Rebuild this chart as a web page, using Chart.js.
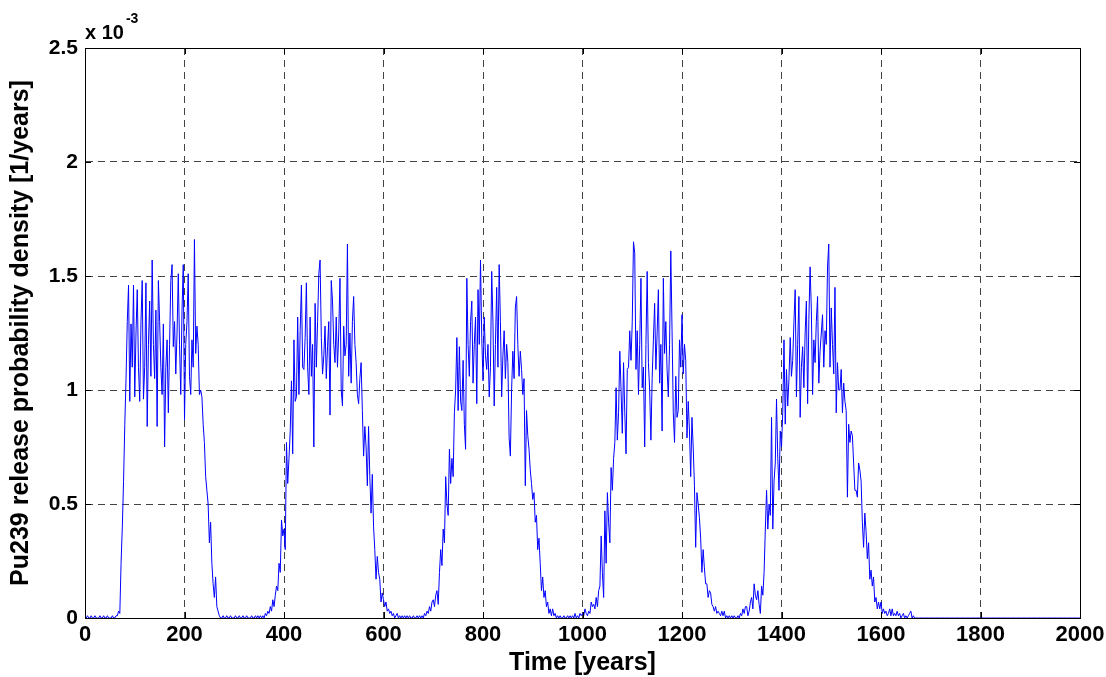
<!DOCTYPE html>
<html>
<head>
<meta charset="utf-8">
<script src="https://cdn.jsdelivr.net/npm/chart.js@4.4.1/dist/chart.umd.min.js"></script>
<style>
  html, body { margin: 0; padding: 0; background: #fff; }
  #wrap { width: 1106px; height: 677px; }
</style>
</head>
<body>
<div id="wrap"><canvas id="releaseChart" width="1106" height="677"></canvas></div>
<script>
// Pu239 release probability density, values in units of 1e-3 [1/years]
// sampled every 2.5 years from year 0 to 2000 (one row = 50 years)
const startYear = 0;
const yearStep = 2.5;
const density = [
  0, 0, 0.01, 0, 0, 0.01, 0, 0, 0.01, 0, 0, 0, 0.01, 0, 0, 0.01, 0, 0, 0.01, 0,
  0, 0, 0.01, 0, 0, 0.01, 0.01, 0.03, 0.02, 0.24, 0.4, 0.6, 0.85, 1.05, 1.3, 1.46, 0.95, 1.29, 1.1, 1.46,
  0.97, 1.25, 1.44, 1.1, 0.95, 1.3, 1.48, 0.96, 1.1, 1.47, 0.84, 1.2, 1.39, 1.06, 1.57, 1.2, 1.05, 1.35, 0.84, 1.48,
  1.3, 1.1, 0.98, 1.29, 0.75, 1.1, 1.22, 0.9, 1.2, 1.48, 1.55, 1.19, 1.3, 1.07, 1.25, 1.51, 1.2, 0.98, 1.35, 1.55,
  0.87, 1.2, 1.3, 1.51, 1.06, 0.98, 1.22, 1.1, 1.66, 1.16, 1.28, 1.2, 0.98, 1.0, 0.97, 0.85, 0.77, 0.62, 0.56, 0.5,
  0.33, 0.42, 0.24, 0.15, 0.09, 0.18, 0.05, 0.03, 0.01, 0, 0, 0.01, 0, 0, 0.01, 0, 0, 0.01, 0, 0,
  0, 0.01, 0, 0, 0.01, 0, 0, 0.01, 0, 0, 0.01, 0, 0, 0, 0.01, 0, 0, 0.01, 0, 0.01,
  0, 0.01, 0, 0.01, 0, 0.02, 0.01, 0.03, 0.02, 0.05, 0.03, 0.08, 0.05, 0.1, 0.14, 0.12, 0.24, 0.2, 0.43, 0.36,
  0.39, 0.3, 0.77, 0.59, 0.7, 0.82, 1.04, 0.72, 1.22, 0.95, 0.97, 1.32, 0.98, 1.26, 1.46, 1.1, 1.09, 1.23, 1.47, 1.1,
  0.98, 1.32, 1.06, 1.2, 0.75, 1.38, 1.1, 1.3, 1.51, 1.57, 1.23, 1.07, 1.15, 1.28, 1.05, 1.19, 1.3, 0.89, 1.48, 1.39,
  1.2, 1.12, 1.32, 1.1, 1.25, 1.49, 1.0, 0.93, 1.28, 1.15, 1.2, 1.64, 1.06, 1.25, 1.03, 1.3, 1.41, 1.2, 1.12, 0.98,
  0.94, 1.05, 1.12, 0.91, 0.71, 0.84, 0.75, 0.58, 0.84, 0.62, 0.46, 0.63, 0.4, 0.3, 0.17, 0.27, 0.2, 0.17, 0.07, 0.11,
  0.08, 0.05, 0.07, 0.03, 0.04, 0.02, 0.03, 0.01, 0.02, 0, 0.01, 0.02, 0, 0.01, 0, 0.01, 0, 0.01, 0, 0.01,
  0, 0.01, 0, 0, 0.01, 0, 0, 0.01, 0, 0.01, 0, 0.01, 0, 0.02, 0.01, 0.03, 0.02, 0.05, 0.03, 0.07,
  0.08, 0.05, 0.1, 0.12, 0.06, 0.2, 0.3, 0.23, 0.39, 0.33, 0.62, 0.5, 0.45, 0.74, 0.59, 0.7, 0.62, 0.9, 1.0, 1.23,
  0.91, 1.19, 0.95, 0.91, 1.13, 0.85, 0.74, 1.49, 1.2, 1.06, 1.3, 1.39, 1.03, 1.2, 1.32, 0.94, 1.44, 1.2, 1.57, 1.23,
  1.04, 1.32, 1.15, 1.09, 1.2, 0.97, 1.1, 1.52, 1.3, 0.93, 1.2, 1.45, 1.1, 1.55, 1.3, 0.97, 1.15, 1.26, 1.05, 1.2,
  1.12, 0.79, 0.71, 1.0, 1.17, 1.05, 1.36, 1.41, 1.2, 1.06, 1.17, 1.09, 0.98, 1.05, 0.58, 0.91, 0.8, 0.74, 0.65, 0.59,
  0.52, 0.55, 0.42, 0.45, 0.3, 0.35, 0.24, 0.12, 0.18, 0.09, 0.12, 0.05, 0.07, 0.02, 0.04, 0.01, 0.04, 0.01, 0.02, 0,
  0.01, 0, 0.01, 0, 0, 0.01, 0, 0, 0.01, 0, 0.01, 0, 0.01, 0, 0.02, 0, 0.01, 0, 0.02, 0.01,
  0.02, 0.01, 0.04, 0.02, 0.01, 0.03, 0.02, 0.07, 0.05, 0.06, 0.04, 0.09, 0.05, 0.12, 0.14, 0.36, 0.2, 0.09, 0.47, 0.24,
  0.55, 0.42, 0.33, 0.66, 0.56, 0.7, 0.77, 1.01, 0.78, 0.9, 1.17, 1.0, 0.81, 1.12, 0.9, 0.72, 1.09, 1.1, 1.26, 1.13,
  1.3, 1.65, 1.6, 1.09, 1.26, 0.98, 1.2, 1.49, 1.01, 1.1, 0.75, 1.2, 1.52, 1.12, 1.0, 0.78, 1.05, 1.22, 1.38, 1.09,
  1.25, 1.44, 1.03, 1.2, 0.82, 1.49, 1.16, 1.3, 1.09, 0.97, 1.2, 1.61, 1.26, 0.9, 0.77, 1.06, 0.88, 0.91, 1.22, 1.1,
  1.33, 1.07, 1.2, 1.13, 0.79, 0.95, 0.82, 0.62, 0.88, 0.75, 0.58, 0.31, 0.55, 0.5, 0.44, 0.35, 0.2, 0.3, 0.22, 0.15,
  0.15, 0.09, 0.12, 0.11, 0.06, 0.05, 0.03, 0.05, 0.02, 0.03, 0.02, 0.01, 0.03, 0.01, 0.03, 0, 0.01, 0, 0.01, 0,
  0.01, 0, 0.01, 0, 0, 0.01, 0, 0.02, 0.01, 0.04, 0.02, 0.05, 0.05, 0.01, 0.03, 0.07, 0.09, 0.04, 0.15, 0.1,
  0.08, 0.12, 0.06, 0.02, 0.14, 0.1, 0.2, 0.39, 0.56, 0.39, 0.5, 0.45, 0.88, 0.39, 0.6, 0.68, 0.96, 0.7, 0.56, 0.82,
  0.75, 0.9, 1.22, 0.85, 1.09, 0.93, 1.05, 1.23, 1.06, 1.13, 1.3, 1.44, 0.97, 1.2, 1.41, 0.88, 1.1, 1.19, 1.01, 1.25,
  1.39, 0.94, 1.31, 1.54, 1.35, 0.98, 1.22, 1.12, 1.3, 1.41, 1.03, 1.17, 1.25, 1.33, 1.1, 1.26, 1.2, 1.54, 1.64, 1.1,
  1.36, 1.2, 1.07, 1.45, 0.9, 1.12, 1.0, 1.0, 1.09, 0.9, 1.03, 0.95, 0.91, 0.53, 0.85, 0.77, 0.82, 0.8, 0.68, 0.56,
  0.56, 0.53, 0.68, 0.65, 0.6, 0.42, 0.31, 0.46, 0.38, 0.26, 0.33, 0.17, 0.21, 0.14, 0.18, 0.07, 0.09, 0.04, 0.07, 0.04,
  0.07, 0.02, 0.04, 0.02, 0.03, 0.01, 0.02, 0.04, 0.01, 0.04, 0.01, 0.02, 0.01, 0.03, 0.01, 0.02, 0, 0.01, 0.02, 0,
  0.01, 0, 0.01, 0.02, 0.03, 0, 0.01, 0, 0, 0, 0, 0, 0, 0, 0, 0, 0, 0, 0, 0,
  0, 0, 0, 0, 0, 0, 0, 0, 0, 0, 0, 0, 0, 0, 0, 0, 0, 0, 0, 0,
  0, 0, 0, 0, 0, 0, 0, 0, 0, 0, 0, 0, 0, 0, 0, 0, 0, 0, 0, 0,
  0, 0, 0, 0, 0, 0, 0, 0, 0, 0, 0, 0, 0, 0, 0, 0, 0, 0, 0, 0,
  0, 0, 0, 0, 0, 0, 0, 0, 0, 0, 0, 0, 0, 0, 0, 0, 0, 0, 0, 0,
  0, 0, 0, 0, 0, 0, 0, 0, 0, 0, 0, 0, 0, 0, 0, 0, 0, 0, 0, 0,
  0, 0, 0, 0, 0, 0, 0, 0, 0, 0, 0, 0, 0, 0, 0, 0, 0, 0, 0, 0,
  0
];

const xTicks = [0, 200, 400, 600, 800, 1000, 1200, 1400, 1600, 1800, 2000];
const yTicks = [0, 0.5, 1, 1.5, 2, 2.5];

const points = density.map((v, i) => ({ x: startYear + i * yearStep, y: v }));

const FONT = "'Liberation Sans', Arial, Helvetica, sans-serif";

// рамка, внутренние засечки и множитель x 10^-3
const matlabBox = {
    id: 'matlabBox',
    afterDraw(chart) {
        const { ctx, chartArea: a, scales } = chart;
        ctx.save();
        ctx.strokeStyle = '#000';
        ctx.lineWidth = 1;
        ctx.setLineDash([]);
        ctx.beginPath();
        xTicks.forEach(t => {
            const px = Math.round(scales.x.getPixelForValue(t)) + 0.5;
            ctx.moveTo(px, a.bottom); ctx.lineTo(px, a.bottom - 6);
            ctx.moveTo(px, a.top); ctx.lineTo(px, a.top + 6);
        });
        yTicks.forEach(t => {
            const py = Math.round(scales.y.getPixelForValue(t)) + 0.5;
            ctx.moveTo(a.left, py); ctx.lineTo(a.left + 6, py);
            ctx.moveTo(a.right, py); ctx.lineTo(a.right - 6, py);
        });
        ctx.stroke();
        ctx.strokeRect(Math.round(a.left) + 0.5, Math.round(a.top) + 0.5,
            Math.round(a.right - a.left), Math.round(a.bottom - a.top));

        ctx.fillStyle = '#000';
        ctx.textBaseline = 'alphabetic';
        ctx.textAlign = 'left';
        ctx.font = 'bold 20px ' + FONT;
        ctx.fillText('x 10', a.left, a.top - 9);
        const w = ctx.measureText('x 10').width;
        ctx.font = 'bold 14px ' + FONT;
        ctx.fillText('-3', a.left + w + 2, a.top - 25);
        ctx.restore();
    }
};

const releaseConfig = {
    type: 'line',
    data: {
        datasets: [{
            data: points,
            borderColor: '#0000ff',
            borderWidth: 1,
            pointRadius: 0,
            tension: 0,
            fill: false
        }]
    },
    options: {
        responsive: false,
        animation: false,
        layout: { padding: { top: 48, right: 26, left: 0, bottom: 0 } },
        plugins: {
            legend: { display: false },
            tooltip: { enabled: false }
        },
        scales: {
            x: {
                type: 'linear',
                min: 0,
                max: 2000,
                afterBuildTicks: s => { s.ticks = xTicks.map(v => ({ value: v })); },
                afterFit: s => { s.height = 59; s.paddingLeft = 0; s.paddingRight = 0; },
                grid: {
                    color: '#444',
                    lineWidth: 1,
                    drawTicks: false
                },
                border: { display: true, color: '#000', dash: [7, 5] },
                ticks: {
                    color: '#000',
                    padding: 4,
                    maxRotation: 0,
                    font: { family: FONT, size: 22, weight: 'bold' },
                    callback: v => String(v)
                },
                title: {
                    display: true,
                    text: 'Time [years]',
                    color: '#000',
                    padding: { top: 0, bottom: 1 },
                    font: { family: FONT, size: 25, weight: 'bold', lineHeight: 1 }
                }
            },
            y: {
                min: 0,
                max: 2.5,
                afterBuildTicks: s => { s.ticks = yTicks.map(v => ({ value: v })); },
                afterFit: s => { s.width = 85; },
                grid: {
                    color: '#444',
                    lineWidth: 1,
                    drawTicks: false
                },
                border: { display: true, color: '#000', dash: [7, 5] },
                ticks: {
                    color: '#000',
                    padding: 7,
                    font: { family: FONT, size: 21, weight: 'bold' },
                    callback: v => String(v)
                },
                title: {
                    display: true,
                    text: 'Pu239 release probability density [1/years]',
                    color: '#000',
                    padding: { top: 9, bottom: 0 },
                    font: { family: FONT, size: 25, weight: 'bold', lineHeight: 1 }
                }
            }
        }
    },
    plugins: [matlabBox]
};

window.onload = function() {
    const releaseCtx = document.getElementById('releaseChart').getContext('2d');
    new Chart(releaseCtx, releaseConfig);
};
</script>
</body>
</html>
